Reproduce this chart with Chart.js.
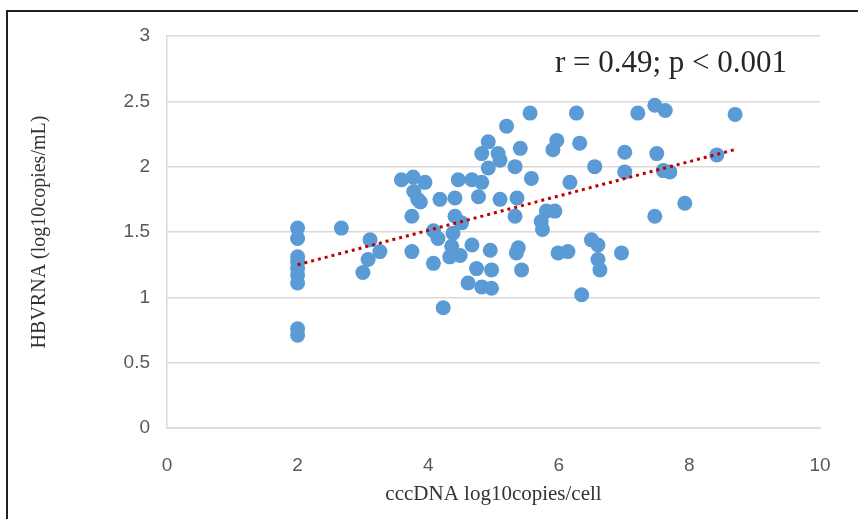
<!DOCTYPE html>
<html>
<head>
<meta charset="utf-8">
<script src="https://cdn.jsdelivr.net/npm/chart.js@4"></script>
<style>
  html, body { margin: 0; padding: 0; background: #fff; }
  body { width: 858px; height: 519px; overflow: hidden; position: relative; }
  #frame { position: absolute; left: 6px; top: 10px; width: 900px; height: 600px; border: 2px solid #231f20; }
  #chartCanvas { position: absolute; left: 0; top: 0; }
</style>
</head>
<body>
<div id="frame"></div>
<canvas id="chartCanvas" width="858" height="519"></canvas>
<script>
// cccDNA (log10 copies/cell) vs HBV RNA (log10 copies/mL)
const cccDNA = [
  2, 2, 2, 2, 2, 2, 2, 2, 2,
  2.67, 3.11, 3.26, 3.08, 3.0,
  3.59, 3.77, 3.95, 3.78, 3.84, 3.88, 3.75, 3.75,
  4.18, 4.08, 4.08, 4.23, 4.15,
  4.46, 4.67, 4.82, 4.41, 4.77, 5.1, 5.36,
  4.41, 4.51, 5.33, 4.38,
  4.36, 4.33, 4.49, 4.67, 4.95, 5.38, 5.35,
  5.43, 4.74, 4.97, 4.61, 4.82, 4.97,
  5.2, 4.92, 4.82, 5.07, 5.1, 5.41, 4.92, 5.33, 5.58,
  5.56, 6.27, 7.21, 7.47, 7.63,
  5.97, 5.91, 6.32, 7.01, 7.5,
  6.55, 7.01, 7.6, 7.7,
  6.17, 7.93, 7.47,
  5.73, 5.75, 5.81, 5.94,
  5.99, 6.14,
  6.5, 6.6, 6.6, 6.63, 6.96, 6.35,
  8.7, 8.42
];
const hbvRNA = [
  1.53, 1.45, 1.31, 1.27, 1.22, 1.17, 1.11, 0.76, 0.71,
  1.53, 1.44, 1.35, 1.29, 1.19,
  1.90, 1.92, 1.88, 1.81, 1.75, 1.73, 1.62, 1.35,
  1.75, 1.51, 1.26, 0.92, 1.45,
  1.90, 1.90, 1.88, 1.76, 1.77, 1.75, 1.76,
  1.62, 1.57, 1.62, 1.49,
  1.39, 1.31, 1.32, 1.40, 1.36, 1.38, 1.34,
  1.21, 1.22, 1.21, 1.11, 1.08, 1.07,
  2.31, 2.19, 2.10, 2.10, 2.05, 2.14, 1.99, 2.00, 1.91,
  2.41, 2.41, 2.41, 2.47, 2.43,
  2.20, 2.13, 2.18, 2.11, 2.10,
  2.00, 1.96, 1.97, 1.96,
  1.88, 1.72, 1.62,
  1.58, 1.52, 1.66, 1.66,
  1.34, 1.35,
  1.44, 1.40, 1.29, 1.21, 1.34, 1.02,
  2.40, 2.09
];
const statsLabel = "r = 0.49; p < 0.001";
const xTitle = "cccDNA log10copies/cell";
const yTitle = "HBVRNA (log10copies/mL)";

const points = cccDNA.map((x, i) => ({ x: x, y: hbvRNA[i] }));

// least squares trend line over the data range
function linearFit(xs, ys) {
  const n = xs.length;
  const mx = xs.reduce((a, b) => a + b, 0) / n;
  const my = ys.reduce((a, b) => a + b, 0) / n;
  let sxy = 0, sxx = 0;
  for (let i = 0; i < n; i++) {
    sxy += (xs[i] - mx) * (ys[i] - my);
    sxx += (xs[i] - mx) * (xs[i] - mx);
  }
  const slope = sxy / sxx;
  return { slope: slope, intercept: my - slope * mx };
}
const fit = linearFit(cccDNA, hbvRNA);
const xMin = Math.min(...cccDNA);
const xMax = Math.max(...cccDNA);
const trend = [xMin, xMax].map(x => ({ x: x, y: fit.intercept + fit.slope * x }));

const serif = "'Liberation Serif', 'Times New Roman', serif";
const sans = "'Liberation Sans', Arial, sans-serif";

const statsText = {
  id: "statsText",
  afterDraw(chart) {
    const ctx = chart.ctx;
    const xs = chart.scales.x;
    const ys = chart.scales.y;
    ctx.save();
    ctx.font = "31px " + serif;
    ctx.fillStyle = "#262626";
    ctx.textBaseline = "middle";
    ctx.textAlign = "left";
    ctx.fillText(statsLabel, xs.getPixelForValue(5.94), ys.getPixelForValue(2.79));
    ctx.restore();
  }
};

new Chart(document.getElementById("chartCanvas"), {
  type: "scatter",
  data: {
    datasets: [
      {
        type: "line",
        data: trend,
        borderColor: "#c00000",
        borderWidth: 3,
        borderDash: [3, 4],
        pointRadius: 0,
        fill: false
      },
      {
        data: points,
        backgroundColor: "#5b9bd5",
        borderColor: "#5b9bd5",
        borderWidth: 0,
        pointRadius: 7.5,
        pointHoverRadius: 7.5
      }
    ]
  },
  plugins: [statsText],
  options: {
    responsive: false,
    animation: false,
    layout: { padding: { top: 36, right: 38, bottom: 0, left: 0 } },
    plugins: {
      legend: { display: false },
      tooltip: { enabled: false }
    },
    scales: {
      x: {
        type: "linear",
        min: 0,
        max: 10,
        ticks: { stepSize: 2, padding: 18, color: "#595959", font: { family: sans, size: 19 } },
        grid: { display: false },
        border: { display: true, color: "#d9d9d9", width: 1.5 },
        title: { display: true, text: xTitle, color: "#333", font: { family: serif, size: 21 }, padding: { top: 0, bottom: 12 } },
        afterFit(scale) { scale.height = 91; }
      },
      y: {
        min: 0,
        max: 3,
        ticks: {
          stepSize: 0.5,
          padding: 17,
          color: "#595959",
          font: { family: sans, size: 19 },
          callback: v => String(v)
        },
        grid: { color: "#d9d9d9", lineWidth: 1.5, drawTicks: false },
        border: { display: true, color: "#d9d9d9", width: 1.5 },
        title: { display: true, text: yTitle, color: "#333", font: { family: serif, size: 20 }, padding: { top: 28, bottom: 0 } },
        afterFit(scale) { scale.width = 167; }
      }
    }
  }
});
</script>
</body>
</html>
